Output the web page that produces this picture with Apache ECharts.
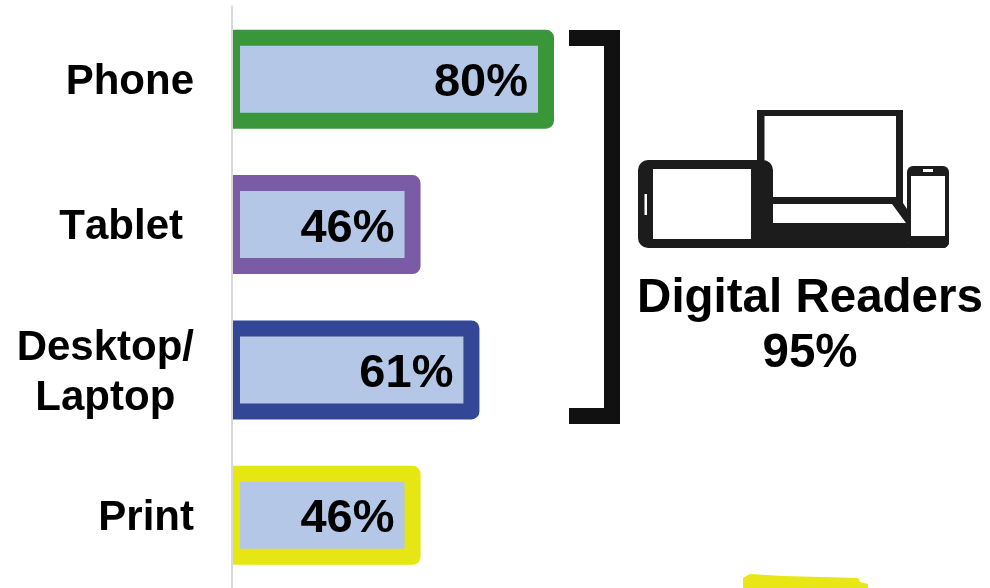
<!DOCTYPE html>
<html>
<head>
<meta charset="utf-8">
<style>html,body{margin:0;padding:0;background:#fff}#chart{width:990px;height:588px}</style>
<script src="https://cdn.jsdelivr.net/npm/echarts@6/dist/echarts.min.js"></script>
</head>
<body>
<div id="chart"></div>
<script>
// Share of readers by device
const categories = ['Phone', 'Tablet', 'Desktop/\nLaptop', 'Print'];
const shares = [80, 46, 61, 46];
const borderColors = ['#3a9739', '#7b5aa6', '#344796', '#e6e614'];
const groupName = 'Digital Readers';
const groupShare = 95;

const FONT = '"Liberation Sans", Arial, sans-serif';
const INK = '#1c1c1c';
const BAR_HEIGHT = 83;
const BORDER = 16;

// Text is set without pair kerning
const nativeGetContext = HTMLCanvasElement.prototype.getContext;
HTMLCanvasElement.prototype.getContext = function () {
  const ctx = nativeGetContext.apply(this, arguments);
  if (ctx && 'fontKerning' in ctx) ctx.fontKerning = 'none';
  return ctx;
};

// Device icon, layered: black silhouettes with white cut-outs on top
function rect(x, y, width, height, fill, r) {
  return { type: 'rect', shape: { x, y, width, height, r: r || 0 }, style: { fill } };
}
function poly(points, fill) {
  return { type: 'polygon', shape: { points }, style: { fill } };
}
const deviceIcon = [
  poly([[757, 110], [903, 110], [903, 203], [907, 209], [907, 243], [949, 243], [949, 244], [945, 248], [757, 248]], INK),
  rect(764.5, 116, 131.5, 81, '#fff'),
  poly([[770, 204], [892, 204], [906, 223], [770, 223]], '#fff'),
  rect(638, 160, 135, 88, INK, 10),
  rect(653, 169, 98, 70, '#fff'),
  rect(644.5, 194, 2.5, 21, '#fff'),
  rect(907, 166, 42, 82, INK, 6),
  rect(911, 176, 34, 60, '#fff'),
  rect(923, 169, 10, 3, '#fff')
];

// Square bracket grouping the digital devices
const bracket = {
  type: 'polyline',
  shape: { points: [[569, 38], [612, 38], [612, 416], [569, 416]] },
  style: { fill: 'none', stroke: '#111', lineWidth: 16, lineJoin: 'miter', lineCap: 'butt' }
};

// Highlighter stroke at the lower edge
const smudge = poly([[743, 578], [750, 574], [783, 576], [858, 578], [860, 582], [868, 584], [868, 588], [743, 588]], '#e8e617');

function groupText(text, y) {
  return {
    type: 'text', x: 810, y,
    style: { text, font: 'bold 47.5px ' + FONT, fill: '#000', textAlign: 'center', textVerticalAlign: 'middle' }
  };
}

// Each bar is a rectangle stroked on its centre line, with the stroke running past the axis and clipped there
function renderBar(params, api) {
  const value = api.value(0);
  const end = api.coord([value, api.value(1)]);
  const start = api.coord([0, api.value(1)]);
  return {
    type: 'group',
    children: [{
      type: 'rect',
      shape: { x: start[0], y: end[1] - BAR_HEIGHT / 2, width: end[0] - start[0], height: BAR_HEIGHT },
      style: { fill: '#b4c7e7', stroke: borderColors[params.dataIndex], lineWidth: BORDER, lineJoin: 'round' }
    }, {
      type: 'text',
      style: {
        x: end[0] - 18, y: end[1] + 4,
        text: value + '%',
        font: 'bold 47px ' + FONT,
        fill: '#000',
        align: 'right',
        verticalAlign: 'middle'
      }
    }]
  };
}

const chart = echarts.init(document.getElementById('chart'), null, { renderer: 'canvas' });
chart.setOption({
  animation: false,
  backgroundColor: '#fff',
  grid: { left: 232, top: 6.5, width: 392.5, height: 582.4, containLabel: false },
  xAxis: { type: 'value', min: 0, max: 100, show: false },
  yAxis: {
    type: 'category',
    data: categories,
    inverse: true,
    z: 5,
    axisTick: { show: false },
    axisLine: { show: true, onZero: false, lineStyle: { color: '#d9d9d9', width: 2 } },
    axisLabel: {
      margin: 38,
      color: '#000',
      fontFamily: FONT,
      fontWeight: 'bold',
      fontSize: 42,
      padding: [6, 0, 0, 0],
      formatter: function (v) {
        if (v.indexOf('\n') >= 0) {
          return v.split('\n').map(s => '{c|' + s + '}').join('\n');
        }
        return v === 'Tablet' ? '{t|' + v + '}' : v;
      },
      rich: {
        c: { align: 'center', fontFamily: FONT, fontWeight: 'bold', fontSize: 42, color: '#000', lineHeight: 50 },
        t: { fontFamily: FONT, fontWeight: 'bold', fontSize: 42, color: '#000', padding: [0, 11, 0, 0] }
      }
    }
  },
  series: [{
    type: 'custom',
    clip: true,
    renderItem: renderBar,
    encode: { x: 0, y: 1 },
    data: shares.map((value, i) => [value, i])
  }],
  graphic: [
    bracket,
    ...deviceIcon,
    groupText(groupName, 298.5),
    groupText(groupShare + '%', 353.5),
    smudge
  ]
});
</script>
</body>
</html>
